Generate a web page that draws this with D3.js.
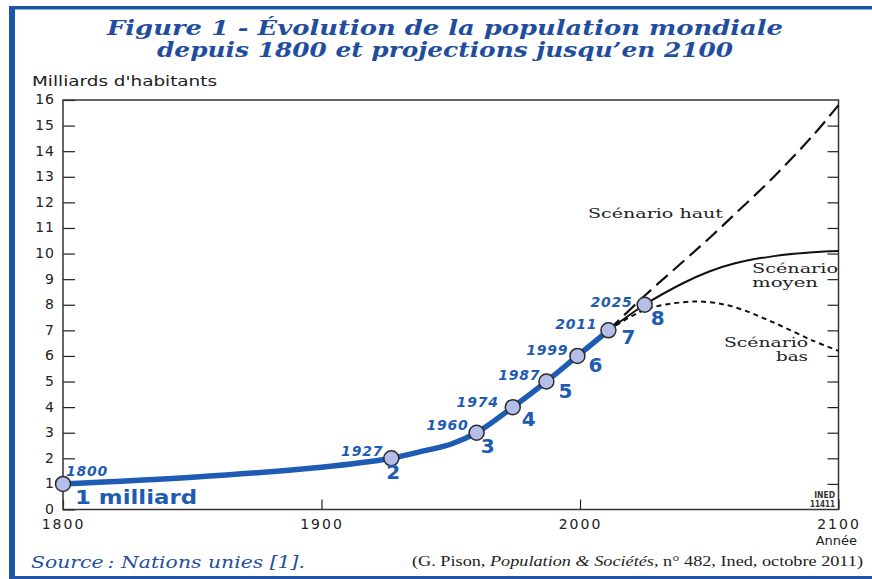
<!DOCTYPE html>
<html>
<head>
<meta charset="utf-8">
<script src="https://cdn.jsdelivr.net/npm/d3@7"></script>
<style>
  body { margin: 0; background: #fff; }
  svg { display: block; }
</style>
</head>
<body>
<div id="chart"></div>
<script>
// population mondiale (milliards)
var histYears  = [1800, 1850, 1900, 1927, 1940, 1950, 1960, 1974, 1987, 1999, 2011];
var histValues = [1.0, 1.26, 1.65, 2.0, 2.3, 2.55, 3.0, 4.0, 5.0, 6.0, 7.0];

var milestoneYears  = [1800, 1927, 1960, 1974, 1987, 1999, 2011, 2025];
var milestoneValues = [1, 2, 3, 4, 5, 6, 7, 8];

var projYears = [2011, 2025, 2040, 2050, 2060, 2075, 2090, 2100];
var hautValues  = [7, 8.35, 9.7, 10.6, 11.55, 13.0, 14.6, 15.8];
var moyenValues = [7, 8.0, 8.85, 9.3, 9.62, 9.9, 10.05, 10.1];
var basValues   = [7, 7.8, 8.1, 8.1, 7.9, 7.3, 6.6, 6.2];

var yTicks = d3.range(0, 17);
var xTicks = [1800, 1900, 2000, 2100];

// label offsets (px) for year / number around each milestone dot
var yearOff = [[3, -8], [-8, -2], [-8, -3], [-14, 0], [-6, -2], [-9, -1], [-11, -1], [-12, 2]];
var numOff  = [[0, 0], [2, 21], [11, 20], [16, 19], [19, 16], [18, 16], [20, 14], [13, 20]];

var W = 872, H = 579;
var blue = '#1f55a8', lineBlue = '#1e5bb3', ink = '#222';

var svg = d3.select('#chart').append('svg')
            .attr('width', W)
            .attr('height', H);

// cadre bleu
svg.append('rect').attr('x', 9).attr('y', 6).attr('width', 6).attr('height', H - 6).attr('fill', blue);
svg.append('rect').attr('x', 9).attr('y', 6).attr('width', W - 9).attr('height', 3.5).attr('fill', blue);
svg.append('rect').attr('x', 9).attr('y', 576).attr('width', W - 9).attr('height', 3).attr('fill', blue);

// titre
var title = svg.append('text')
               .attr('fill', '#1f4e9e')
               .attr('font-family', 'DejaVu Serif')
               .attr('font-style', 'italic')
               .attr('font-weight', 'bold')
               .attr('font-size', '20px')
               .attr('text-anchor', 'middle');
title.append('tspan').attr('x', 445).attr('y', 35)
     .attr('textLength', 676).attr('lengthAdjust', 'spacingAndGlyphs')
     .text('Figure 1 - Évolution de la population mondiale');
title.append('tspan').attr('x', 445).attr('y', 57)
     .attr('textLength', 576).attr('lengthAdjust', 'spacingAndGlyphs')
     .text('depuis 1800 et projections jusqu\u2019en 2100');

var x = d3.scaleLinear().domain([1800, 2100]).range([63, 838.5]);
var y = d3.scaleLinear().domain([0, 16]).range([509.5, 100]);

// axe gauche
var yAxis = svg.append('g')
   .attr('transform', 'translate(63,0)')
   .call(d3.axisLeft(y).tickValues(yTicks).tickSize(-12).tickPadding(8).tickFormat(d3.format('d')));
yAxis.select('.domain').remove();
yAxis.selectAll('line').attr('stroke', ink).attr('stroke-width', 1.2);
yAxis.selectAll('text')
     .attr('font-family', 'DejaVu Sans').attr('font-size', '14px')
     .attr('fill', ink).attr('dy', '0.28em').style('letter-spacing', '1px');

// axe droit (graduations seules)
var yAxisR = svg.append('g')
   .attr('transform', 'translate(838.5,0)')
   .call(d3.axisRight(y).tickValues(yTicks.slice(1, 16)).tickSize(-11).tickFormat(''));
yAxisR.select('.domain').remove();
yAxisR.selectAll('line').attr('stroke', ink).attr('stroke-width', 1.2);

// axe bas
var xAxis = svg.append('g')
   .attr('transform', 'translate(0,509.5)')
   .call(d3.axisBottom(x).tickValues(xTicks).tickSize(-10).tickPadding(10).tickFormat(d3.format('d')));
xAxis.select('.domain').remove();
xAxis.selectAll('line').attr('stroke', ink).attr('stroke-width', 1.2);
xAxis.selectAll('text')
     .attr('font-family', 'DejaVu Sans').attr('font-size', '14px')
     .attr('fill', ink).style('letter-spacing', '2px');

// cadre du graphique
svg.append('rect')
   .attr('x', x(1800)).attr('y', y(16))
   .attr('width', x(2100) - x(1800)).attr('height', y(0) - y(16))
   .attr('fill', 'none').attr('stroke', '#333').attr('stroke-width', 1.5);

svg.append('text')
   .attr('x', 32).attr('y', 86)
   .attr('font-family', 'DejaVu Sans').attr('font-size', '14px').attr('fill', ink)
   .attr('textLength', 185).attr('lengthAdjust', 'spacingAndGlyphs')
   .text("Milliards d'habitants");

svg.append('text')
   .attr('x', 857).attr('y', 545)
   .attr('text-anchor', 'end')
   .attr('font-family', 'DejaVu Sans').attr('font-size', '13px').attr('fill', ink)
   .text('Année');

// INED
svg.append('text').attr('x', 835).attr('y', 498).attr('text-anchor', 'end')
   .attr('font-family', 'DejaVu Sans Condensed').attr('font-weight', 'bold')
   .attr('font-size', '8.5px').attr('fill', '#333').text('INED');
svg.append('text').attr('x', 835).attr('y', 507).attr('text-anchor', 'end')
   .attr('font-family', 'DejaVu Sans Condensed').attr('font-weight', 'bold')
   .attr('font-size', '8px').attr('fill', '#333').text('11411');

// scénarios
var projLine = function(vals){
  return d3.line()
           .x(function(d, i){ return x(projYears[i]); })
           .y(function(d){ return y(d); })
           .curve(d3.curveCatmullRom.alpha(0.5))(vals);
};
svg.append('path').attr('d', projLine(hautValues))
   .attr('fill', 'none').attr('stroke', '#111').attr('stroke-width', 2.2)
   .attr('stroke-dasharray', '15,7');
svg.append('path').attr('d', projLine(moyenValues))
   .attr('fill', 'none').attr('stroke', '#111').attr('stroke-width', 2);
svg.append('path').attr('d', projLine(basValues))
   .attr('fill', 'none').attr('stroke', '#111').attr('stroke-width', 2)
   .attr('stroke-dasharray', '5,4');

// courbe historique
var histLine = d3.line()
                 .x(function(d, i){ return x(histYears[i]); })
                 .y(function(d){ return y(d); })
                 .curve(d3.curveCatmullRom.alpha(0.5));
svg.append('path').attr('d', histLine(histValues))
   .attr('fill', 'none').attr('stroke', lineBlue).attr('stroke-width', 5.5)
   .attr('stroke-linecap', 'round');

// points
svg.selectAll('circle.m').data(milestoneValues).enter().append('circle')
   .attr('class', 'm')
   .attr('cx', function(d, i){ return x(milestoneYears[i]); })
   .attr('cy', function(d){ return y(d); })
   .attr('r', 7.5)
   .attr('fill', '#b5bee8').attr('stroke', '#2a2a2a').attr('stroke-width', 1.5);

// étiquettes années
svg.selectAll('text.yr').data(milestoneYears).enter().append('text')
   .attr('class', 'yr')
   .attr('x', function(d, i){ return x(d) + yearOff[i][0]; })
   .attr('y', function(d, i){ return y(milestoneValues[i]) + yearOff[i][1]; })
   .attr('text-anchor', function(d, i){ return i == 0 ? 'start' : 'end'; })
   .attr('font-family', 'DejaVu Sans').attr('font-style', 'italic').attr('font-weight', 'bold')
   .attr('font-size', '14px').attr('fill', lineBlue)
   .style('letter-spacing', '0.8px')
   .text(function(d){ return d; });

// étiquettes milliards
svg.selectAll('text.nb').data(milestoneValues.slice(1)).enter().append('text')
   .attr('class', 'nb')
   .attr('x', function(d, i){ return x(milestoneYears[i + 1]) + numOff[i + 1][0]; })
   .attr('y', function(d, i){ return y(d) + numOff[i + 1][1]; })
   .attr('text-anchor', 'middle')
   .attr('font-family', 'DejaVu Sans').attr('font-weight', 'bold')
   .attr('font-size', '20px').attr('fill', lineBlue)
   .text(function(d){ return d; });

svg.append('text')
   .attr('x', 75).attr('y', 504)
   .attr('font-family', 'DejaVu Sans').attr('font-weight', 'bold')
   .attr('font-size', '19px').attr('fill', lineBlue)
   .attr('textLength', 122).attr('lengthAdjust', 'spacingAndGlyphs')
   .text('1 milliard');

// noms des scénarios
var scen = function(tx, ty, anchor, str, len){
  var t = svg.append('text')
     .attr('x', tx).attr('y', ty)
     .attr('text-anchor', anchor)
     .attr('font-family', 'DejaVu Serif').attr('font-size', '12px').attr('fill', '#222')
     .text(str);
  if (len) { t.attr('textLength', len).attr('lengthAdjust', 'spacingAndGlyphs'); }
};
scen(588, 218, 'start', 'Scénario haut', 135);
scen(752, 273, 'start', 'Scénario', 86);
scen(752, 287, 'start', 'moyen', 66);
scen(808, 347, 'end', 'Scénario', 84);
scen(808, 361, 'end', 'bas', 32);

// source
svg.append('text')
   .attr('x', 31).attr('y', 568)
   .attr('font-family', 'DejaVu Serif').attr('font-style', 'italic')
   .attr('font-size', '17px').attr('fill', '#1f4e9e')
   .attr('textLength', 274).attr('lengthAdjust', 'spacingAndGlyphs')
   .text('Source\u2009: Nations unies [1].');

var cite = svg.append('text')
   .attr('x', 863).attr('y', 566)
   .attr('text-anchor', 'end')
   .attr('font-family', 'Liberation Serif').attr('font-size', '14.5px').attr('fill', '#222')
   .attr('textLength', 451).attr('lengthAdjust', 'spacingAndGlyphs');
cite.append('tspan').text('(G. Pison, ');
cite.append('tspan').attr('font-style', 'italic').text('Population & Sociétés');
cite.append('tspan').text(', n° 482, Ined, octobre 2011)');
</script>
</body>
</html>
